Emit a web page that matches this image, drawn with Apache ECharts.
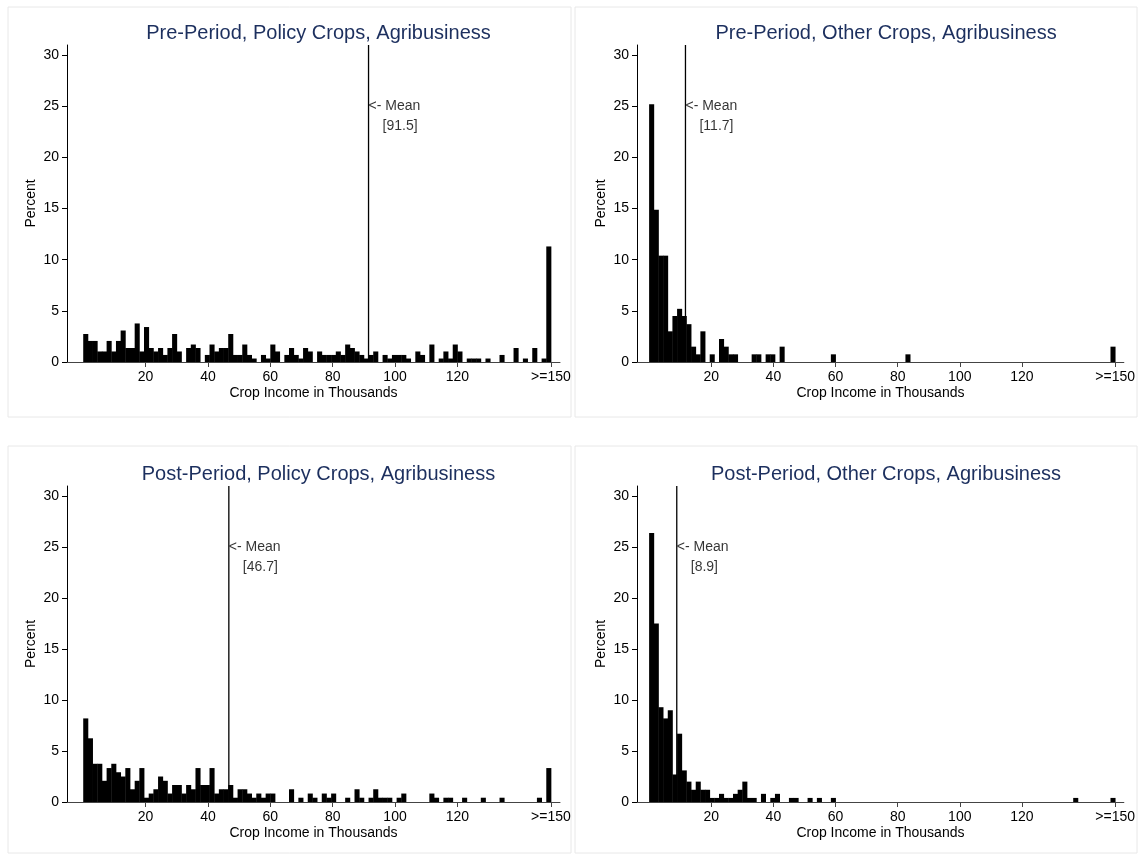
<!DOCTYPE html>
<html>
<head>
    <meta charset="utf-8">
    <title>Crop Income Histograms</title>
    <script src="https://cdn.jsdelivr.net/npm/echarts@6/dist/echarts.min.js"></script>
    <style>
        html, body { margin: 0; padding: 0; background: #fff; }
        #chart { width: 1138px; height: 854px; }
    </style>
</head>
<body>
<div id="chart"></div>
<script>
    // bins are 1.5 thousand wide, 100 bins, last one is the ">=150" bin
    var BIN_WIDTH = 1.5;
    var xTickValues = [20, 40, 60, 80, 100, 120, 150];
    var xTickLabels = ['20', '40', '60', '80', '100', '120', '>=150'];
    var yTickValues = [0, 5, 10, 15, 20, 25, 30];

    var titles = [
        'Pre-Period, Policy Crops, Agribusiness',
        'Pre-Period, Other Crops, Agribusiness',
        'Post-Period, Policy Crops, Agribusiness',
        'Post-Period, Other Crops, Agribusiness'
    ];
    var means = [91.5, 11.7, 46.7, 8.9];

    // percent per bin
    var prePolicy = [
        2.74, 2.06, 2.06, 1.03, 1.03, 2.06, 1.03, 2.06, 3.08, 1.37,
        1.37, 3.77, 1.03, 3.42, 1.37, 1.03, 1.37, 0.69, 1.37, 2.74,
        1.03, 0, 1.37, 1.71, 1.37, 0, 0.69, 1.71, 1.03, 1.37,
        1.37, 2.74, 0.69, 0.69, 1.71, 0.69, 0.34, 0, 0.69, 0.34,
        1.71, 1.03, 0, 0.69, 1.37, 0.69, 0.34, 1.37, 1.03, 0,
        1.03, 0.69, 0.69, 0.69, 1.03, 0.69, 1.71, 1.37, 1.03, 0.69,
        0.34, 0.69, 1.03, 0, 0.69, 0.34, 0.69, 0.69, 0.69, 0.34,
        0, 1.03, 0.69, 0, 1.71, 0, 0.34, 1.03, 0.34, 1.71,
        1.03, 0, 0.34, 0.34, 0.34, 0, 0.34, 0, 0, 0.69,
        0, 0, 1.37, 0, 0.34, 0, 1.37, 0, 0.34, 11.3
    ];
    var preOther = [
        25.2, 14.9, 10.4, 10.4, 3.0, 4.5, 5.2, 4.5, 3.7, 1.5,
        0.75, 3.0, 0, 0.75, 0, 2.25, 1.5, 0.75, 0.75, 0,
        0, 0, 0.75, 0.75, 0, 0.75, 0.75, 0, 1.5, 0,
        0, 0, 0, 0, 0, 0, 0, 0, 0, 0.75,
        0, 0, 0, 0, 0, 0, 0, 0, 0, 0,
        0, 0, 0, 0, 0, 0.75, 0, 0, 0, 0,
        0, 0, 0, 0, 0, 0, 0, 0, 0, 0,
        0, 0, 0, 0, 0, 0, 0, 0, 0, 0,
        0, 0, 0, 0, 0, 0, 0, 0, 0, 0,
        0, 0, 0, 0, 0, 0, 0, 0, 0, 1.5
    ];
    var postPolicy = [
        8.2, 6.25, 3.75, 3.75, 2.08, 3.33, 3.75, 2.92, 2.5, 3.33,
        1.25, 2.08, 3.33, 0.42, 0.83, 1.25, 2.5, 2.08, 0.83, 1.67,
        1.67, 0.83, 1.67, 1.25, 3.33, 1.67, 1.67, 3.33, 0.83, 1.25,
        1.25, 1.67, 0.42, 1.25, 1.25, 0.83, 0.42, 0.83, 0.42, 0.83,
        0.83, 0, 0, 0, 1.25, 0, 0.42, 0, 0.83, 0.42,
        0, 0.83, 0.42, 0.83, 0, 0, 0.42, 0, 1.25, 0.42,
        0, 0.42, 1.25, 0.42, 0.42, 0.42, 0, 0.42, 0.83, 0,
        0, 0, 0, 0, 0.83, 0.42, 0, 0.42, 0.42, 0,
        0, 0.42, 0, 0, 0, 0.42, 0, 0, 0, 0.42,
        0, 0, 0, 0, 0, 0, 0, 0.42, 0, 3.33
    ];
    var postOther = [
        26.4, 17.5, 9.3, 8.2, 9.0, 2.7, 6.7, 3.1, 2.0, 1.2,
        2.0, 1.2, 1.2, 0.4, 0.4, 0.8, 0.4, 0.4, 0.8, 1.2,
        2.0, 0.4, 0.4, 0, 0.8, 0, 0.4, 0.8, 0, 0,
        0.4, 0.4, 0, 0, 0.4, 0, 0.4, 0, 0, 0.4,
        0, 0, 0, 0, 0, 0, 0, 0, 0, 0,
        0, 0, 0, 0, 0, 0, 0, 0, 0, 0,
        0, 0, 0, 0, 0, 0, 0, 0, 0, 0,
        0, 0, 0, 0, 0, 0, 0, 0, 0, 0,
        0, 0, 0, 0, 0, 0, 0, 0, 0, 0,
        0, 0.4, 0, 0, 0, 0, 0, 0, 0, 0.4
    ];
    var panelData = [prePolicy, preOther, postPolicy, postOther];

    var FONT = '"Liberation Sans", Arial, Helvetica, sans-serif';

    var grids = [
        {left: 67, top: 45, width: 493, height: 317},
        {left: 637, top: 45, width: 488, height: 317},
        {left: 67, top: 486, width: 493, height: 316},
        {left: 637, top: 486, width: 488, height: 316}
    ];
    var xRanges = [[-5.2, 152.9], [-3.9, 152.8], [-5.2, 152.9], [-3.9, 152.8]];

    var myChart = echarts.init(document.getElementById('chart'));

    var option = {
        backgroundColor: '#fff',
        animation: false,
        textStyle: {fontFamily: FONT},
        title: [],
        grid: grids,
        xAxis: [],
        yAxis: [],
        series: [],
        graphic: [
            {type: 'rect', shape: {x: 8, y: 7, width: 563, height: 410}, style: {fill: 'none', stroke: '#e8e8e8', lineWidth: 1}},
            {type: 'rect', shape: {x: 575, y: 7, width: 562, height: 410}, style: {fill: 'none', stroke: '#e8e8e8', lineWidth: 1}},
            {type: 'rect', shape: {x: 8, y: 446, width: 563, height: 407}, style: {fill: 'none', stroke: '#e8e8e8', lineWidth: 1}},
            {type: 'rect', shape: {x: 575, y: 446, width: 562, height: 407}, style: {fill: 'none', stroke: '#e8e8e8', lineWidth: 1}}
        ]
    };

    for (var p = 0; p < 4; p++) {
        var g = grids[p];
        option.title.push({
            text: titles[p],
            left: g.left + g.width / 2,
            top: g.top - 27,
            textAlign: 'center',
            textStyle: {color: '#1c2f5e', fontSize: 20, fontWeight: 'normal', fontFamily: FONT}
        });
        option.xAxis.push({
            type: 'value',
            gridIndex: p,
            min: xRanges[p][0],
            max: xRanges[p][1],
            name: 'Crop Income in Thousands',
            nameLocation: 'middle',
            nameGap: 24,
            nameTextStyle: {color: '#000', fontSize: 14, fontFamily: FONT},
            splitLine: {show: false},
            axisLine: {onZero: false, lineStyle: {color: '#444', width: 1}},
            axisTick: {show: true, length: 5, customValues: xTickValues, lineStyle: {color: '#444'}},
            axisLabel: {
                customValues: xTickValues,
                margin: 8,
                color: '#000',
                fontSize: 14,
                fontFamily: FONT,
                formatter: function (v) {
                    return xTickLabels[xTickValues.indexOf(v)];
                }
            }
        });
        option.yAxis.push({
            type: 'value',
            gridIndex: p,
            min: 0,
            max: 31,
            name: 'Percent',
            nameLocation: 'middle',
            nameGap: 29,
            nameRotate: 90,
            nameTextStyle: {color: '#000', fontSize: 14, fontFamily: FONT},
            splitLine: {show: false},
            axisLine: {show: true, onZero: false, lineStyle: {color: '#000', width: 1}},
            axisTick: {show: true, length: 5, customValues: yTickValues, lineStyle: {color: '#000'}},
            axisLabel: {customValues: yTickValues, margin: 8, color: '#000', fontSize: 14, fontFamily: FONT}
        });

        var bins = [];
        panelData[p].forEach(function (v, i) {
            if (v > 0) bins.push([i * BIN_WIDTH, v]);
        });
        option.series.push({
            type: 'custom',
            xAxisIndex: p,
            yAxisIndex: p,
            silent: true,
            data: bins,
            renderItem: function (params, api) {
                var x0 = api.value(0);
                var h = api.value(1);
                var a = api.coord([x0, 0]);
                var b = api.coord([x0 + BIN_WIDTH, h]);
                return {
                    type: 'rect',
                    shape: {x: a[0], y: b[1], width: b[0] - a[0] + 0.4, height: a[1] - b[1]},
                    style: {fill: '#000'}
                };
            }
        });
        // mean line
        option.series.push({
            type: 'line',
            xAxisIndex: p,
            yAxisIndex: p,
            silent: true,
            symbol: 'none',
            data: [[means[p], 0], [means[p], 31]],
            lineStyle: {color: '#000', width: 1.3}
        });
        // mean label
        option.series.push({
            type: 'scatter',
            xAxisIndex: p,
            yAxisIndex: p,
            silent: true,
            symbolSize: 0,
            data: [[means[p], 25]],
            label: {
                show: true,
                position: [0, -10],
                align: 'left',
                verticalAlign: 'top',
                formatter: '{a|<- Mean}\n{b|[' + means[p].toFixed(1) + ']}',
                rich: {
                    a: {color: '#000', fontSize: 14, lineHeight: 20, fontFamily: FONT},
                    b: {color: '#000', fontSize: 14, lineHeight: 20, fontFamily: FONT, padding: [0, 0, 0, 14]}
                }
            }
        });
    }

    myChart.setOption(option);
</script>
</body>
</html>
